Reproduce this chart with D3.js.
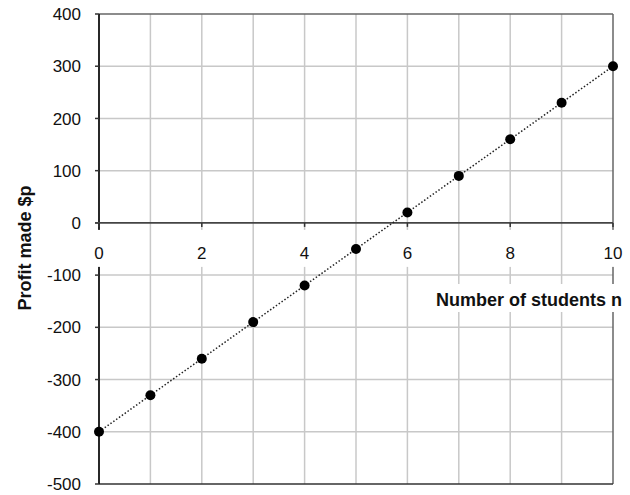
<!DOCTYPE html>
<html>
<head>
<meta charset="utf-8">
<script src="https://cdn.jsdelivr.net/npm/d3@7"></script>
<style>
  body { margin: 0; background: #fff; }
  text { font-family: "Liberation Sans", Arial, sans-serif; }
</style>
</head>
<body>
<svg width="630" height="495"></svg>
<script>
var students = [0, 1, 2, 3, 4, 5, 6, 7, 8, 9, 10];
var profit = [-400, -330, -260, -190, -120, -50, 20, 90, 160, 230, 300];
var xTicks = [0, 2, 4, 6, 8, 10];
var yTicks = [-500, -400, -300, -200, -100, 0, 100, 200, 300, 400];

var svg = d3.select("svg"),
    pLeft = 99, pRight = 613, pTop = 14, pBottom = 484;

var x = d3.scaleLinear().domain([0, 10]).range([pLeft, pRight]);
var y = d3.scaleLinear().domain([-500, 400]).range([pBottom, pTop]);

var data = students.map(function (n, i) { return { n: n, p: profit[i] }; });

// grid
var grid = svg.append("g").attr("stroke", "#c8c8c8").attr("stroke-width", 1.5);
grid.selectAll(".v").data(d3.range(1, 10)).enter().append("line")
    .attr("x1", d => x(d)).attr("x2", d => x(d))
    .attr("y1", pTop).attr("y2", pBottom);
grid.selectAll(".h").data(yTicks.filter(d => d != 0 && d != 400 && d != -500)).enter().append("line")
    .attr("x1", pLeft).attr("x2", pRight)
    .attr("y1", d => y(d)).attr("y2", d => y(d));

// frame
svg.append("line").attr("x1", pLeft).attr("x2", pRight).attr("y1", pTop).attr("y2", pTop)
    .attr("stroke", "#666").attr("stroke-width", 1.5);
svg.append("line").attr("x1", pRight).attr("x2", pRight).attr("y1", pTop).attr("y2", pBottom)
    .attr("stroke", "#666").attr("stroke-width", 1.5);
svg.append("line").attr("x1", pLeft).attr("x2", pRight).attr("y1", pBottom).attr("y2", pBottom)
    .attr("stroke", "#333").attr("stroke-width", 1.5);
svg.append("line").attr("x1", pLeft).attr("x2", pLeft).attr("y1", pTop).attr("y2", pBottom)
    .attr("stroke", "#111").attr("stroke-width", 1.8);

// y ticks
svg.append("g").selectAll("line").data(yTicks).enter().append("line")
    .attr("x1", pLeft - 4).attr("x2", pLeft)
    .attr("y1", d => y(d)).attr("y2", d => y(d))
    .attr("stroke", "#333").attr("stroke-width", 1.5);

svg.append("g").selectAll("text").data(yTicks).enter().append("text")
    .attr("x", 81).attr("y", d => y(d)).attr("dy", "0.36em")
    .attr("text-anchor", "end").attr("font-size", 17).attr("fill", "#111")
    .text(d => d);

// zero line
svg.append("line").attr("x1", pLeft - 4).attr("x2", pRight).attr("y1", y(0)).attr("y2", y(0))
    .attr("stroke", "#444").attr("stroke-width", 1.8);

// x ticks
svg.append("g").selectAll("line").data(xTicks).enter().append("line")
    .attr("x1", d => x(d)).attr("x2", d => x(d))
    .attr("y1", y(0)).attr("y2", y(0) + 4)
    .attr("stroke", "#333").attr("stroke-width", 1.5);

var xl = svg.append("g").selectAll("g").data(xTicks).enter().append("g")
    .attr("transform", d => "translate(" + x(d) + "," + (y(0) + 30) + ")");
xl.append("rect").attr("x", d => d == 10 ? -11 : -7).attr("y", -23)
    .attr("width", d => d == 10 ? 22 : 14).attr("height", 37).attr("fill", "#fff");
xl.append("text").attr("text-anchor", "middle").attr("y", 6)
    .attr("font-size", 17).attr("fill", "#111").text(d => d);

// axis titles
svg.append("rect").attr("x", 434).attr("y", 284).attr("width", 196).attr("height", 28).attr("fill", "#fff");
svg.append("text").attr("x", 622).attr("y", 306).attr("text-anchor", "end")
    .attr("font-size", 18).attr("font-weight", "bold").attr("fill", "#111")
    .text("Number of students n");

svg.append("text").attr("transform", "translate(31,248)rotate(-90)")
    .attr("text-anchor", "middle")
    .attr("font-size", 18).attr("font-weight", "bold").attr("fill", "#111")
    .text("Profit made $p");

// line + dots
svg.append("path").datum(data)
    .attr("d", d3.line().x(d => x(d.n)).y(d => y(d.p)))
    .attr("fill", "none").attr("stroke", "#222").attr("stroke-width", 1.5)
    .attr("stroke-dasharray", "1.5,2");

svg.append("g").selectAll("circle").data(data).enter().append("circle")
    .attr("cx", d => x(d.n)).attr("cy", d => y(d.p)).attr("r", 5)
    .attr("fill", "#000");
</script>
</body>
</html>
